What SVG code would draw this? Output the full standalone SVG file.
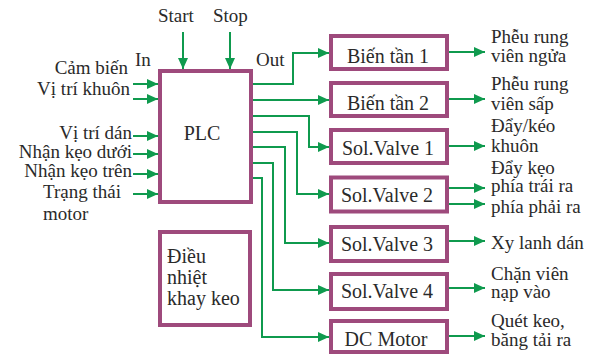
<svg xmlns="http://www.w3.org/2000/svg" width="594" height="354" viewBox="0 0 594 354">
<defs>
<style>
.box{fill:#fff;stroke:#9e4a7c;stroke-width:4}
.wire{fill:none;stroke:#0f9a4e;stroke-width:2}
text{font-family:'Liberation Serif','DejaVu Serif','Times New Roman',serif;fill:#2a2a2a}
.t{font-size:19px}
.b{font-size:20px;text-anchor:middle}
.e{text-anchor:end}
</style>
<marker id="ah" viewBox="0 0 11 10" refX="11" refY="5" markerWidth="11" markerHeight="10" markerUnits="userSpaceOnUse" orient="auto">
<path d="M0,0 L11,5 L0,10 z" fill="#0f9a4e"/>
</marker>
</defs>
<rect width="594" height="354" fill="#fff"/>

<g id="connectors">
<path class="wire" marker-end="url(#ah)" d="M183,32 V69"/>
<path class="wire" marker-end="url(#ah)" d="M230,32 V69"/>
<path class="wire" marker-end="url(#ah)" d="M133,84 H158"/>
<path class="wire" marker-end="url(#ah)" d="M133,99 H158"/>
<path class="wire" marker-end="url(#ah)" d="M133,136 H158"/>
<path class="wire" marker-end="url(#ah)" d="M133,154 H158"/>
<path class="wire" marker-end="url(#ah)" d="M133,174 H158"/>
<path class="wire" marker-end="url(#ah)" d="M133,194 H158"/>
<path class="wire" marker-end="url(#ah)" d="M253,84 H293 V53 H329"/>
<path class="wire" marker-end="url(#ah)" d="M253,100 H329"/>
<path class="wire" marker-end="url(#ah)" d="M253,116 H309 V147 H329"/>
<path class="wire" marker-end="url(#ah)" d="M253,132 H297 V194 H329"/>
<path class="wire" marker-end="url(#ah)" d="M253,147 H285 V243 H329"/>
<path class="wire" marker-end="url(#ah)" d="M253,163 H273 V290 H329"/>
<path class="wire" marker-end="url(#ah)" d="M253,178 H262 V337 H329"/>
<path class="wire" marker-end="url(#ah)" d="M449,52 H485"/>
<path class="wire" marker-end="url(#ah)" d="M449,99 H485"/>
<path class="wire" marker-end="url(#ah)" d="M449,146 H485"/>
<path class="wire" marker-end="url(#ah)" d="M449,188 H485"/>
<path class="wire" marker-end="url(#ah)" d="M449,204 H485"/>
<path class="wire" marker-end="url(#ah)" d="M449,241 H485"/>
<path class="wire" marker-end="url(#ah)" d="M449,288 H485"/>
<path class="wire" marker-end="url(#ah)" d="M449,336 H485"/>
</g>

<g id="plc">
<rect class="box" x="160" y="71" width="91" height="131"/>
<text class="b" x="202" y="140">PLC</text>
</g>
<g id="dieu-nhiet">
<rect class="box" x="160" y="232" width="90" height="93"/>
<text style="font-size:20px" x="167" y="263">Điều</text>
<text style="font-size:20px" x="167" y="284">nhiệt</text>
<text style="font-size:20px" x="167" y="305">khay keo</text>
</g>
<g id="bien-tan-1">
<rect class="box" x="331" y="36" width="116" height="33"/>
<text class="b" x="388" y="63">Biến tần 1</text>
</g>
<g id="bien-tan-2">
<rect class="box" x="331" y="83" width="116" height="33"/>
<text class="b" x="388" y="110">Biến tần 2</text>
</g>
<g id="sol-valve-1">
<rect class="box" x="331" y="130" width="116" height="33"/>
<text class="b" x="388" y="155">Sol.Valve 1</text>
</g>
<g id="sol-valve-2">
<rect class="box" x="331" y="177.5" width="116" height="34"/>
<text class="b" x="387" y="202">Sol.Valve 2</text>
</g>
<g id="sol-valve-3">
<rect class="box" x="331" y="227" width="116" height="34"/>
<text class="b" x="387" y="251">Sol.Valve 3</text>
</g>
<g id="sol-valve-4">
<rect class="box" x="331" y="274" width="116" height="35"/>
<text class="b" x="387" y="298">Sol.Valve 4</text>
</g>
<g id="dc-motor">
<rect class="box" x="331" y="321" width="116" height="31"/>
<text class="b" x="386" y="346">DC Motor</text>
</g>

<g id="labels">
<text class="t" x="158" y="22">Start</text>
<text class="t" x="213" y="22">Stop</text>
<text class="t" x="135" y="66">In</text>
<text class="t" x="256" y="66">Out</text>
<text class="t e" x="128" y="74">Cảm biến</text>
<text class="t e" x="130" y="95">Vị trí khuôn</text>
<text class="t e" x="132" y="139">Vị trí dán</text>
<text class="t e" x="132" y="158">Nhận kẹo dưới</text>
<text class="t e" x="132" y="177">Nhận kẹo trên</text>
<text class="t" x="43" y="198">Trạng thái</text>
<text class="t" x="43" y="220">motor</text>
<text class="t" x="491" y="43">Phễu rung</text>
<text class="t" x="491" y="62">viên ngửa</text>
<text class="t" x="491" y="90">Phễu rung</text>
<text class="t" x="491" y="110">viên sấp</text>
<text class="t" x="491" y="132">Đẩy/kéo</text>
<text class="t" x="491" y="152">khuôn</text>
<text class="t" x="491" y="174">Đẩy kẹo</text>
<text class="t" x="491" y="192">phía trái ra</text>
<text class="t" x="491" y="213">phía phải ra</text>
<text class="t" x="491" y="249">Xy lanh dán</text>
<text class="t" x="491" y="280">Chặn viên</text>
<text class="t" x="491" y="298">nạp vào</text>
<text class="t" x="491" y="327">Quét keo,</text>
<text class="t" x="491" y="346">băng tải ra</text>
</g>
</svg>
